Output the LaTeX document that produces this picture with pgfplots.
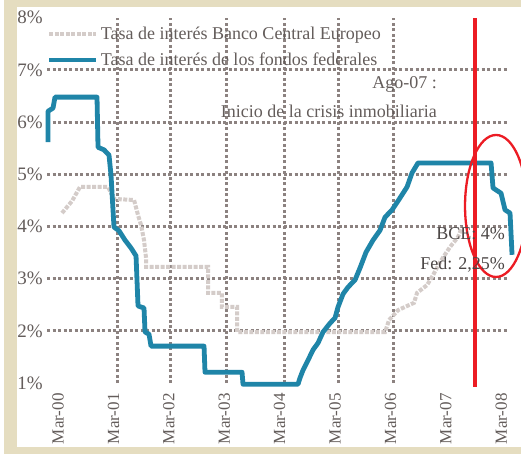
\documentclass[border=0pt]{standalone}
\usepackage{fontspec}
\setmainfont{Liberation Serif}
\usepackage{pgfplots}
\pgfplotsset{compat=1.18}

\definecolor{framebeige}{RGB}{229,221,192}
\definecolor{fedblue}{RGB}{31,133,168}
\definecolor{ecbgray}{RGB}{212,204,201}
\definecolor{gridgray}{RGB}{140,130,128}
\definecolor{txtgray}{RGB}{100,93,91}
\definecolor{darktxt}{RGB}{75,70,69}
\definecolor{alertred}{RGB}{236,28,36}

\newcommand{\lbl}{\fontsize{18}{21}\selectfont}

\begin{document}
\begin{tikzpicture}
\useasboundingbox (0pt,0pt) rectangle (521pt,454pt);
\clip (0pt,0pt) rectangle (521pt,454pt);
\fill[white] (0pt,0pt) rectangle (521pt,454pt);
\fill[framebeige] (4pt,0pt) rectangle (521pt,454pt);
\fill[white] (17pt,7pt) rectangle (521pt,447pt);

\begin{axis}[
  at={(47pt,70.8pt)}, anchor=south west,
  scale only axis, width=462pt, height=365.4pt,
  xmin=-0.39, xmax=99.67, ymin=1, ymax=8,
  clip=false,
  axis line style={draw=none},
  major tick length=0pt,
  xtick={2,14,26,38,50,62,74,86,98},
  xticklabels={Mar-00,Mar-01,Mar-02,Mar-03,Mar-04,Mar-05,Mar-06,Mar-07,Mar-08},
  xticklabel style={rotate=90, anchor=east, inner sep=0pt, font=\fontsize{17}{20}\selectfont, text=txtgray},
  xticklabel shift=10pt,
  ytick={1,2,3,4,5,6,7,8},
  yticklabels={1\%,2\%,3\%,4\%,5\%,6\%,7\%,8\%},
  yticklabel style={anchor=east, inner sep=0pt, font=\fontsize{19}{22}\selectfont, text=txtgray},
  yticklabel shift=4pt,
  extra x ticks={14.79,26.25,38.38,50.94,62.64,74.55},
  extra x tick labels={},
  extra x tick style={grid=major, major tick length=0pt},
  extra y ticks={2,3,4,5,6,7},
  extra y tick labels={},
  extra y tick style={grid=major, major tick length=0pt},
  major grid style={color=gridgray, line width=3pt, dash pattern=on 3pt off 2.5pt},
  legend style={at={(0,1)}, anchor=north west, yshift=-7pt, draw=none, fill=none,
    inner sep=0pt, outer sep=0pt, font=\lbl, text=txtgray, row sep=8pt,
    /tikz/every even column/.append style={column sep=4pt}},
  legend cell align=left,
  legend image code/.code={\draw[#1] (-3pt,0pt) -- (44pt,0pt);},
]

% ECB main refinancing rate
\addplot[ecbgray, line width=4pt, dash pattern=on 4pt off 1.5pt] coordinates {
(2.86,4.26) (5.03,4.49) (6.76,4.76) (12.83,4.76) (14.13,4.53) (18.46,4.51)
(19.32,4.22) (19.98,4.03) (20.62,3.74) (21.06,3.40) (21.06,3.23)
(34.48,3.23) (34.48,2.73) (37.51,2.73) (37.51,2.46) (40.76,2.46) (40.76,1.98)
(72.82,1.98) (73.69,2.21) (75.64,2.40) (79.10,2.54) (79.75,2.73) (81.92,2.88)
(83.22,3.07) (84.73,3.32) (86.90,3.61) (88.63,3.80) (89.50,3.99)
};
\addlegendentry{Tasa de interés Banco Central Europeo}

% Federal funds target rate
\addplot[fedblue, line width=4.8pt, line join=round] coordinates {
(-0.17,5.62) (-0.17,6.21) (0.91,6.27) (1.34,6.48) (10.44,6.48) (10.66,5.52)
(11.96,5.47) (13.04,5.37) (13.47,4.99) (14.12,3.99) (15.21,3.92) (16.51,3.74)
(17.81,3.59) (18.89,3.44) (19.10,2.98) (19.32,2.48) (20.62,2.44) (20.84,1.98)
(21.70,1.94) (22.14,1.71) (33.62,1.71) (33.83,1.21) (41.85,1.21) (42.06,0.98)
(53.97,0.98) (54.40,1.10) (55.06,1.25) (56.14,1.44) (57.23,1.64) (58.31,1.77)
(59.39,1.98) (60.91,2.15) (61.99,2.25) (62.64,2.46) (63.73,2.71) (64.81,2.84)
(66.33,2.98) (67.41,3.21) (68.71,3.51) (70.22,3.74) (71.74,3.93) (72.82,4.18)
(74.34,4.32) (76.07,4.55) (77.59,4.76) (78.67,5.03) (79.97,5.22) (95.78,5.22)
(96.21,4.74) (97.94,4.64) (98.81,4.32) (99.89,4.26) (100.33,3.46)
};
\addlegendentry{Tasa de interés de los fondos federales}

% August 2007 marker and highlighted last months
\draw[alertred, line width=3.5pt] (axis cs:92.31,0.93) -- (axis cs:92.31,8);
\draw[alertred, line width=2.3pt] (axis cs:96.86,4.395) ellipse [x radius=31pt, y radius=71pt];
\end{axis}

\node[anchor=east, inner sep=0pt, font=\lbl, text=txtgray] at (437pt,370pt) {Ago-07 :};
\node[anchor=east, inner sep=0pt, font=\lbl, text=txtgray] at (437pt,343pt) {Inicio de la crisis inmobiliaria};
\node[anchor=east, inner sep=0pt, font=\lbl, text=darktxt] at (505pt,220pt) {BCE: 4\%};
\node[anchor=east, inner sep=0pt, font=\lbl, text=darktxt] at (505pt,189pt) {Fed: 2,25\%};
\end{tikzpicture}
\end{document}
